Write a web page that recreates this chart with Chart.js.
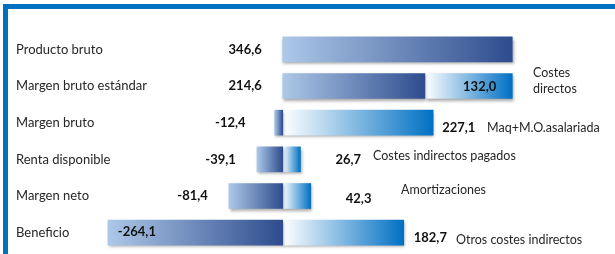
<!DOCTYPE html>
<html>
<head>
<meta charset="utf-8">
<script src="https://cdn.jsdelivr.net/npm/chart.js@4/dist/chart.umd.min.js"></script>
<style>
  html, body { margin: 0; padding: 0; background: #fff; }
  #wrap { width: 615px; height: 254px; }
</style>
</head>
<body>
<div id="wrap"><canvas id="chart" width="615" height="254"></canvas></div>
<script>
// rows of the account, top to bottom
const categories = ["Producto bruto", "Margen bruto estándar", "Margen bruto", "Renta disponible", "Margen neto", "Beneficio"];
// resulting margin of each row (dark bars)
const results = [346.6, 214.6, -12.4, -39.1, -81.4, -264.1];
// cost taken away at each row (light bars)
const costs = [null, 132.0, 227.1, 26.7, 42.3, 182.7];
// what each cost is
const costNames = [null, ["Costes", "directos"], "Maq+M.O.asalariada", "Costes indirectos pagados", "Amortizaciones", "Otros costes indirectos"];

const fmt = (v) => v.toFixed(1).replace(".", ",");

// span of a bar in value units, as the stacked scale lays it out
function span(ds, i) {
  const r = results[i];
  if (ds === 0) return [Math.min(0, r), Math.max(0, r)];
  const base = r > 0 ? r : 0;
  return [base, base + costs[i]];
}

function grad(context, from, to, fallback) {
  const chart = context.chart;
  const x = chart.scales.x;
  if (!chart.chartArea || !x || context.dataIndex === undefined) return fallback;
  const s = span(context.datasetIndex, context.dataIndex);
  const x0 = x.getPixelForValue(s[0]);
  const x1 = x.getPixelForValue(s[1]);
  if (!isFinite(x0) || !isFinite(x1) || x1 - x0 < 1) return fallback;
  const g = chart.ctx.createLinearGradient(x0, 0, x1, 0);
  g.addColorStop(0, from);
  g.addColorStop(1, to);
  return g;
}

// frame, shadows and the text round the bars
const decor = {
  id: "decor",
  beforeDraw(chart) {
    const ctx = chart.ctx;
    ctx.save();
    ctx.fillStyle = "#0070c0";
    ctx.fillRect(3, 4, 612, 5);
    ctx.fillRect(3, 4, 5, 250);
    ctx.restore();
  },
  beforeDatasetsDraw(chart) {
    const ctx = chart.ctx;
    ctx.save();
    ctx.shadowColor = "rgba(0,0,0,0.35)";
    ctx.shadowBlur = 3;
    ctx.shadowOffsetX = 1;
    ctx.shadowOffsetY = 2;
  },
  afterDatasetsDraw(chart) {
    const ctx = chart.ctx;
    ctx.restore();
    const x = chart.scales.x;
    const y = chart.scales.y;
    ctx.save();
    ctx.textBaseline = "middle";
    const bold = "bold 13px Lato, 'Open Sans', sans-serif";
    const plain = "12.5px Lato, 'Open Sans', sans-serif";

    categories.forEach((c, i) => {
      const cy = y.getPixelForValue(i);
      const s0 = span(0, i);
      // result value
      ctx.font = bold;
      ctx.fillStyle = "#111";
      if (i === 5) {
        ctx.textAlign = "left";
        ctx.fillText(fmt(results[i]), x.getPixelForValue(s0[0]) + 10, cy - 1);
      } else {
        ctx.textAlign = "right";
        const gap = i === 2 ? 29 : 21;
        ctx.fillText(fmt(results[i]), x.getPixelForValue(s0[0]) - gap, cy);
      }
      if (costs[i] === null) return;
      const s1 = span(1, i);
      const xe = x.getPixelForValue(s1[1]);
      const drop = [0, 0, 5, 0, 3, 5][i];
      if (i === 1) {
        ctx.textAlign = "right";
        ctx.fillText(fmt(costs[i]), xe - 16, cy + 1);
      } else {
        ctx.textAlign = "left";
        const gap = [0, 0, 9, 35, 35, 10][i];
        ctx.fillText(fmt(costs[i]), xe + gap, cy + drop);
      }
      // cost name
      ctx.font = plain;
      ctx.fillStyle = "#262626";
      ctx.textAlign = "left";
      const nx = [0, 533, 487, 373, 401, 456][i];
      const ndrop = [0, 0, 5, -3, -6, 7][i];
      const name = costNames[i];
      if (Array.isArray(name)) {
        ctx.fillText(name[0], nx, cy - 13);
        ctx.fillText(name[1], nx, cy + 3);
      } else {
        ctx.fillText(name, nx, cy + ndrop);
      }
    });
    ctx.restore();
  }
};

new Chart(document.getElementById("chart"), {
  type: "bar",
  data: {
    labels: categories,
    datasets: [
      {
        label: "Margen",
        data: results,
        backgroundColor: (c) => grad(c, "#adc8e8", "#2e4c8e", "#5b7fb8"),
        barThickness: 25,
        borderSkipped: false,
        clip: false
      },
      {
        label: "Costes",
        data: costs,
        backgroundColor: (c) => grad(c, "#ffffff", "#0070c4", "#4f9ad6"),
        barThickness: 25,
        borderSkipped: false,
        clip: false
      }
    ]
  },
  options: {
    indexAxis: "y",
    responsive: false,
    animation: false,
    layout: { padding: { top: 31, bottom: 3, left: 0, right: 21 } },
    plugins: {
      legend: { display: false },
      tooltip: { enabled: false }
    },
    scales: {
      x: {
        stacked: true,
        min: -427,
        max: 470,
        display: false
      },
      y: {
        stacked: true,
        grid: { display: false, drawTicks: false },
        border: { display: false },
        afterFit: (scale) => {
          scale.width = 0;
          scale.paddingTop = 0;
          scale.paddingBottom = 0;
        },
        ticks: {
          mirror: true,
          padding: 16,
          color: "#262626",
          font: { family: "Lato, 'Open Sans', sans-serif", size: 13 }
        }
      }
    }
  },
  plugins: [decor]
});
</script>
</body>
</html>
